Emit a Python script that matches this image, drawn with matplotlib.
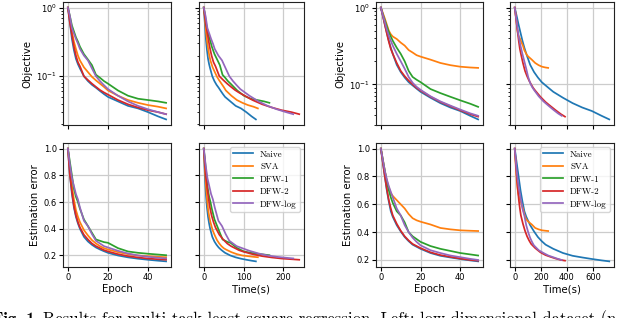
import matplotlib.pyplot as plt
import numpy as np

methods = ['Naive', 'SVA', 'DFW-1', 'DFW-2', 'DFW-log']
colors = ['tab:blue', 'tab:orange', 'tab:green', 'tab:red', 'tab:purple']
epochs = [0, 1, 2, 3, 4, 5, 6, 8, 10, 12, 14, 16, 18, 20, 25, 30, 35, 40, 45, 49]

# low-dimensional dataset: objective per epoch
low_obj_naive = [1.0, 0.6, 0.35, 0.24, 0.18, 0.15, 0.13, 0.1, 0.085, 0.075, 0.068, 0.061, 0.055, 0.05, 0.043, 0.037, 0.034, 0.03, 0.026, 0.0235]
low_obj_sva = [1.0, 0.7, 0.45, 0.32, 0.25, 0.2, 0.17, 0.135, 0.115, 0.098, 0.087, 0.078, 0.07, 0.062, 0.052, 0.045, 0.041, 0.038, 0.036, 0.034]
low_obj_dfw1 = [1.0, 0.75, 0.55, 0.45, 0.37, 0.32, 0.27, 0.21, 0.175, 0.145, 0.105, 0.095, 0.085, 0.078, 0.062, 0.052, 0.047, 0.045, 0.043, 0.041]
low_obj_dfw2 = [1.0, 0.6, 0.4, 0.27, 0.2, 0.16, 0.14, 0.1, 0.088, 0.078, 0.07, 0.063, 0.058, 0.054, 0.045, 0.039, 0.035, 0.032, 0.03, 0.028]
low_obj_dfwlog = [1.0, 0.75, 0.5, 0.42, 0.35, 0.3, 0.25, 0.2, 0.17, 0.13, 0.1, 0.085, 0.074, 0.065, 0.052, 0.043, 0.037, 0.033, 0.03, 0.028]

# low-dimensional dataset: estimation error per epoch
low_err_naive = [1.0, 0.8, 0.66, 0.56, 0.49, 0.44, 0.4, 0.34, 0.305, 0.28, 0.26, 0.245, 0.232, 0.22, 0.2, 0.186, 0.176, 0.168, 0.161, 0.156]
low_err_sva = [1.0, 0.85, 0.72, 0.62, 0.54, 0.49, 0.45, 0.39, 0.35, 0.315, 0.29, 0.27, 0.255, 0.245, 0.225, 0.21, 0.2, 0.195, 0.19, 0.187]
low_err_dfw1 = [1.0, 0.9, 0.8, 0.7, 0.64, 0.6, 0.55, 0.47, 0.42, 0.37, 0.32, 0.31, 0.3, 0.295, 0.255, 0.23, 0.22, 0.213, 0.207, 0.202]
low_err_dfw2 = [1.0, 0.8, 0.68, 0.57, 0.5, 0.45, 0.41, 0.355, 0.32, 0.29, 0.27, 0.255, 0.24, 0.23, 0.21, 0.195, 0.185, 0.177, 0.172, 0.168]
low_err_dfwlog = [1.0, 0.88, 0.78, 0.72, 0.66, 0.62, 0.56, 0.46, 0.42, 0.36, 0.31, 0.29, 0.27, 0.26, 0.235, 0.215, 0.2, 0.19, 0.183, 0.178]

# high-dimensional dataset: objective per epoch
high_obj_naive = [1.0, 0.78, 0.6, 0.47, 0.37, 0.3, 0.25, 0.18, 0.145, 0.123, 0.107, 0.097, 0.088, 0.08, 0.067, 0.057, 0.05, 0.045, 0.039, 0.035]
high_obj_sva = [1.0, 0.85, 0.72, 0.6, 0.5, 0.45, 0.42, 0.39, 0.35, 0.32, 0.28, 0.26, 0.24, 0.23, 0.21, 0.19, 0.178, 0.17, 0.166, 0.164]
high_obj_dfw1 = [1.0, 0.82, 0.68, 0.57, 0.48, 0.42, 0.37, 0.3, 0.25, 0.2, 0.15, 0.125, 0.115, 0.107, 0.087, 0.077, 0.069, 0.062, 0.056, 0.051]
high_obj_dfw2 = [1.0, 0.78, 0.6, 0.46, 0.36, 0.29, 0.25, 0.19, 0.15, 0.128, 0.112, 0.1, 0.09, 0.083, 0.069, 0.059, 0.052, 0.046, 0.041, 0.038]
high_obj_dfwlog = [1.0, 0.8, 0.65, 0.52, 0.43, 0.37, 0.32, 0.25, 0.2, 0.16, 0.125, 0.105, 0.093, 0.085, 0.07, 0.06, 0.053, 0.047, 0.042, 0.039]

# high-dimensional dataset: estimation error per epoch
high_err_naive = [1.0, 0.9, 0.8, 0.7, 0.62, 0.55, 0.51, 0.45, 0.405, 0.365, 0.335, 0.31, 0.295, 0.28, 0.25, 0.23, 0.218, 0.207, 0.197, 0.19]
high_err_sva = [1.0, 0.92, 0.84, 0.77, 0.72, 0.68, 0.66, 0.63, 0.6, 0.57, 0.53, 0.5, 0.485, 0.475, 0.455, 0.43, 0.42, 0.413, 0.41, 0.408]
high_err_dfw1 = [1.0, 0.92, 0.84, 0.76, 0.7, 0.65, 0.61, 0.55, 0.52, 0.47, 0.4, 0.37, 0.35, 0.33, 0.3, 0.28, 0.265, 0.25, 0.24, 0.232]
high_err_dfw2 = [1.0, 0.9, 0.8, 0.71, 0.63, 0.57, 0.52, 0.46, 0.41, 0.37, 0.34, 0.315, 0.3, 0.285, 0.255, 0.235, 0.222, 0.21, 0.2, 0.195]
high_err_dfwlog = [1.0, 0.92, 0.84, 0.78, 0.73, 0.69, 0.65, 0.57, 0.52, 0.45, 0.4, 0.36, 0.33, 0.305, 0.27, 0.25, 0.232, 0.22, 0.208, 0.2]

# total run time (s) for the 49 epochs; DFW-1 not shown in the high-dim time plots
low_time_end = [131, 136, 165, 240, 225]
high_time_end = [724, 256, None, 385, 360]

low_obj = [low_obj_naive, low_obj_sva, low_obj_dfw1, low_obj_dfw2, low_obj_dfwlog]
low_err = [low_err_naive, low_err_sva, low_err_dfw1, low_err_dfw2, low_err_dfwlog]
high_obj = [high_obj_naive, high_obj_sva, high_obj_dfw1, high_obj_dfw2, high_obj_dfwlog]
high_err = [high_err_naive, high_err_sva, high_err_dfw1, high_err_dfw2, high_err_dfwlog]

fig = plt.figure(figsize=(6.4, 3.18), dpi=100)
W, H = 640, 318


def box(x0, x1, y0, y1):
    return [x0 / W, 1 - y1 / H, (x1 - x0) / W, (y1 - y0) / H]


tick_fs = 6
label_fs = 7.3


def panel_group(x_cols, obj, err, time_end):
    ax_oe = fig.add_axes(box(x_cols[0][0], x_cols[0][1], 2, 125))
    ax_ot = fig.add_axes(box(x_cols[1][0], x_cols[1][1], 2, 125), sharey=ax_oe)
    ax_ee = fig.add_axes(box(x_cols[0][0], x_cols[0][1], 143, 267), sharex=ax_oe)
    ax_et = fig.add_axes(box(x_cols[1][0], x_cols[1][1], 143, 267), sharex=ax_ot, sharey=ax_ee)
    ep = np.array(epochs)
    for i, m in enumerate(methods):
        ax_oe.plot(ep, obj[i], color=colors[i], lw=1.25)
        ax_ee.plot(ep, err[i], color=colors[i], lw=1.25)
        if time_end[i] is not None:
            t = ep * time_end[i] / epochs[-1]
            ax_ot.plot(t, obj[i], color=colors[i], lw=1.25)
            ax_et.plot(t, err[i], color=colors[i], lw=1.25, label=m)
        else:
            ax_et.plot([], [], color=colors[i], lw=1.25, label=m)
    ax_oe.set_yscale('log')
    ax_oe.set_ylabel('Objective', fontsize=label_fs, labelpad=2.5)
    ax_ee.set_ylabel('Estimation error', fontsize=label_fs, labelpad=2.5)
    ax_ee.set_xlabel('Epoch', fontsize=label_fs, labelpad=1.5)
    ax_et.set_xlabel('Time(s)', fontsize=label_fs, labelpad=1.5)
    ax_ee.set_yticks([0.2, 0.4, 0.6, 0.8, 1.0])
    for ax in (ax_oe, ax_ot, ax_ee, ax_et):
        ax.grid(True, color='#cccccc', lw=0.9)
        ax.tick_params(labelsize=tick_fs, length=2.8, pad=1.6)
        ax.tick_params(which='minor', length=1.6)
        for s in ax.spines.values():
            s.set_color('#222222')
    ax_oe.tick_params(labelbottom=False)
    ax_ot.tick_params(labelbottom=False, labelleft=False)
    ax_et.tick_params(labelleft=False)
    ax_et.legend(loc='upper right', prop={'family': 'cmr10', 'size': 6.5},
                 handlelength=2.2, labelspacing=0.45, borderpad=0.35,
                 borderaxespad=0.45)
    return ax_oe, ax_ot, ax_ee, ax_et


low_axes = panel_group([(63, 171), (199, 304)], low_obj, low_err, low_time_end)
high_axes = panel_group([(376, 483), (510, 614)], high_obj, high_err, high_time_end)

low_axes[1].set_xticks([0, 100, 200])
high_axes[1].set_xticks([0, 200, 400, 600])

# caption, cut off by the figure edge as in the source
cap_y = -0.019
fig.text(39 / W, cap_y, 'Fig. 1.', family='cmb10', fontsize=12, va='baseline', ha='right')
fig.text(43 / W, cap_y,
         'Results for multi-task least square regression. Left: low-dimensional dataset (n =',
         family='cmr10', fontsize=12, va='baseline')

fig.savefig('out.png', dpi=100)
